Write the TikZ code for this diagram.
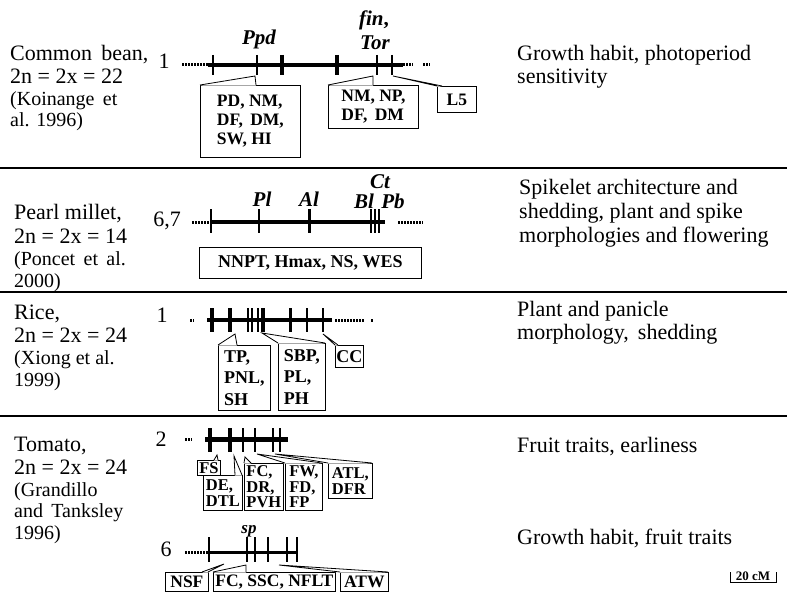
\documentclass[tikz,border=0pt]{standalone}
\usepackage{fontspec}
\setmainfont{Liberation Serif}
\usetikzlibrary{calc}
\newcommand\wedgeto[4]{%
  \fill[white] ([xshift=#3pt,yshift=-0.7pt]#1.north west) -- (#2) -- ([xshift=#4pt,yshift=-0.7pt]#1.north west) -- cycle;
  \draw[line width=0.8pt] ([xshift=#3pt]#1.north west) -- (#2) -- ([xshift=#4pt]#1.north west);
}
\begin{document}
\begin{tikzpicture}[x=1pt,y=-1pt,
  main/.style={font=\fontsize{22}{24}\selectfont, inner sep=0, anchor=base west},
  cite/.style={font=\fontsize{20}{22}\selectfont, inner sep=0, anchor=base west},
  chrnum/.style={font=\fontsize{22}{24}\selectfont, inner sep=0},
  gene/.style={font=\fontsize{21}{23}\selectfont\bfseries\itshape, inner sep=0, anchor=base},
  box/.style={draw, line width=0.8pt, fill=white, align=left, inner sep=0, anchor=north west},
  bbox/.style={box, font=\fontsize{17.5}{19}\selectfont\bfseries},
  rbox/.style={box, font=\fontsize{18}{21.5}\selectfont\bfseries},
  tbox/.style={box, font=\fontsize{16.5}{15.5}\selectfont\bfseries},
  sbox/.style={box, font=\fontsize{17.5}{18}\selectfont\bfseries},
  chrom/.style={line width=#1},
  dots/.style={line width=3pt, dash pattern=on 1.5pt off 1.5pt},
  tk/.style={line width=#1},
  sep/.style={line width=1.3pt},
]
\useasboundingbox (0,0) rectangle (787,607);

% separators
\draw[sep] (0,168) -- (787,168);
\draw[sep] (0,292) -- (787,292);
\draw[sep] (0,416) -- (787,416);

% ---------- left column ----------
\node[main] (bn1) at (10,61) {Common\, bean,};
\node[main] (bn2) at (10,84) {2n = 2x = 22};
\node[cite] (bn3) at (10,106) {(Koinange\, et};
\node[cite] (bn4) at (10,127) {al. 1996)};

\node[main] (pm1) at (14,219) {Pearl millet,};
\node[main] (pm2) at (14,243) {2n = 2x = 14};
\node[cite] (pm3) at (14,265) {(Poncet\, et\, al.};
\node[cite] (pm4) at (14,287) {2000)};

\node[main] (ri1) at (14,319) {Rice,};
\node[main] (ri2) at (14,342) {2n = 2x = 24};
\node[cite] (ri3) at (14,364) {(Xiong et al.};
\node[cite] (ri4) at (14,386) {1999)};

\node[main] (to1) at (14,451) {Tomato,};
\node[main] (to2) at (14,474) {2n = 2x = 24};
\node[cite] (to3) at (14,496) {(Grandillo};
\node[cite] (to4) at (14,517) {and\, Tanksley};
\node[cite] (to5) at (14,539) {1996)};

% ---------- right column ----------
\node[main] (rb1) at (517,61) {Growth habit, photoperiod};
\node[main] (rb2) at (517,84) {sensitivity};
\node[main] (rp1) at (519,194) {Spikelet architecture and};
\node[main] (rp2) at (519,218) {shedding, plant and spike};
\node[main] (rp3) at (519,242) {morphologies and flowering};
\node[main] (rr1) at (517,316) {Plant and panicle};
\node[main] (rr2) at (517,339) {morphology,\, shedding};
\node[main] (rt1) at (517,452) {Fruit traits, earliness};
\node[main] (rt2) at (517,544) {Growth habit, fruit traits};

% ---------- common bean ----------
\node[chrnum] (n1) at (164,61) {1};
\draw[dots] (182,65) -- (208,65);
\draw[chrom=4pt] (208,65) -- (403,65);
\draw[dots] (403,65) -- (413,65);
\draw[dots] (423,65) -- (430,65);
\foreach \x in {213,257,377,392} \draw[tk=1.5pt] (\x,55) -- (\x,75);
\foreach \x in {282,337} \draw[tk=3.5pt] (\x,55) -- (\x,75);
\node[gene] (ppd) at (259,45) {Ppd};
\node[gene] (fin) at (374,26) {fin\upshape,};
\node[gene] (tor) at (375,50) {Tor};

\node[bbox, minimum width=100pt, minimum height=72pt] (pd) at (200,85) {PD, NM,\\DF,\, DM,\\SW, HI};
\coordinate (tpd) at (255,76);
\wedgeto{pd}{tpd}{0}{56}
\node[bbox, minimum width=90pt, minimum height=43pt] (nm) at (328,85) {NM, NP,\\DF,\, DM};
\coordinate (tnm) at (373,76);
\wedgeto{nm}{tnm}{0}{45}
\node[bbox, minimum width=39pt, minimum height=26pt] (l5) at (437,86) {L5};
\coordinate (tl5) at (393,76);
\wedgeto{l5}{tl5}{0}{5}

% ---------- pearl millet ----------
\node[chrnum] (n67) at (167,221) {6,7};
\draw[dots] (192,222) -- (210,222);
\draw[chrom=3.5pt] (210,222) -- (385,222);
\draw[dots] (398,222) -- (423,222);
\foreach \x in {211,371,375,379} \draw[tk=1.5pt] (\x,209) -- (\x,233);
\draw[tk=2.5pt] (259,209) -- (259,233);
\draw[tk=3pt] (309,209) -- (309,233);
\node[gene] (pl) at (262,206) {Pl};
\node[gene] (al) at (309,206) {Al};
\node[gene] (ct) at (380,188) {Ct};
\node[gene] (bl) at (364,208) {Bl};
\node[gene] (pb) at (393,208) {Pb};
\node[box, font=\fontsize{18}{20}\selectfont\bfseries, minimum width=222pt, minimum height=31pt] (nnpt) at (199,247) {NNPT, Hmax, NS, WES};

% ---------- rice ----------
\node[chrnum] (nr1) at (162,315) {1};
\draw[dots] (190,320) -- (194,320);
\draw[chrom=4.5pt] (207,320) -- (332,320);
\draw[dots] (335,320) -- (365,320);
\draw[dots] (371,320) -- (373,320);
\foreach \x in {212,230} \draw[tk=3.5pt] (\x,308) -- (\x,332);
\foreach \x in {248,252} \draw[tk=2.5pt] (\x,308) -- (\x,332);
\draw[tk=4.5pt] (263,308) -- (263,332);
\draw[tk=1.5pt] (258,308) -- (258,332);
\draw[tk=3pt] (290,308) -- (290,332);
\foreach \x in {307,323} \draw[tk=1.5pt] (\x,308) -- (\x,332);

\node[rbox, minimum width=52pt, minimum height=65pt] (tp) at (218,345) {TP,\\PNL,\\SH};
\coordinate (ttp) at (235,334);
\wedgeto{tp}{ttp}{0}{19}
\node[rbox, minimum width=47pt, minimum height=67pt] (sbp) at (278,343) {SBP,\\PL,\\PH};
\coordinate (tsbp) at (262,333);
\wedgeto{sbp}{tsbp}{0}{47}
\node[rbox, minimum width=28pt, minimum height=22pt] (cc) at (335,345) {CC};
\coordinate (tcc) at (323,334);
\wedgeto{cc}{tcc}{0}{3}

% ---------- tomato 2 ----------
\node[chrnum] (n2) at (161,439) {2};
\draw[dots] (185,439) -- (192,439);
\draw[chrom=5pt] (205,439) -- (288,439);
\foreach \x in {210,230} \draw[tk=3.5pt] (\x,428) -- (\x,452);
\foreach \x in {243,255,273,280} \draw[tk=1.5pt] (\x,428) -- (\x,452);

\node[tbox, minimum width=39pt, minimum height=35pt] (de) at (203,475) {DE,\\DTL};
\coordinate (tde) at (234,456);
\wedgeto{de}{tde}{32}{39}
\node[tbox, minimum width=23pt, minimum height=15pt] (fs) at (197,460) {FS};
\coordinate (tfs) at (217,455);
\wedgeto{fs}{tfs}{17}{21}
\node[tbox, minimum width=39pt, minimum height=47pt] (fc) at (244,463) {FC,\\DR,\\PVH};
\coordinate (tfc) at (245,457);
\wedgeto{fc}{tfc}{0}{7}
\node[tbox, minimum width=37pt, minimum height=47pt] (fw) at (285,463) {FW,\\FD,\\FP};
\coordinate (tfw) at (257,454);
\wedgeto{fw}{tfw}{0}{37}
\node[tbox, minimum width=44pt, minimum height=35pt] (atl) at (328,463) {ATL,\\DFR};
\coordinate (tatl) at (275,454);
\wedgeto{atl}{tatl}{0}{44}

% ---------- tomato 6 ----------
\node[chrnum] (n6) at (166,549) {6};
\draw[dots] (185,552) -- (208,552);
\draw[chrom=3pt] (208,552) -- (298,552);
\draw[tk=2pt] (209,537) -- (209,562);
\foreach \x in {247,255,268,287,297} \draw[tk=1.5pt] (\x,537) -- (\x,562);
\node[gene, font=\fontsize{17}{19}\selectfont\bfseries\itshape] (sp) at (249,533) {sp};

\node[sbox, minimum width=43pt, minimum height=19pt] (nsf) at (165,572) {NSF};
\coordinate (tnsf) at (224,564);
\wedgeto{nsf}{tnsf}{37}{43}
\node[sbox, minimum width=122pt, minimum height=19pt] (fcs) at (213,572) {FC, SSC, NFLT};
\coordinate (tfcs) at (246,565);
\wedgeto{fcs}{tfcs}{0}{33}
\node[sbox, minimum width=48pt, minimum height=19pt] (atw) at (340,572) {ATW};
\coordinate (tatw) at (279,565);
\wedgeto{atw}{tatw}{0}{48}

% ---------- scale bar ----------
\draw[line width=1pt] (730,572) -- (730,582) -- (776,582) -- (776,572);
\node[font=\fontsize{13}{14}\selectfont\bfseries, inner sep=0] (scale) at (753,576) {20 cM};
\end{tikzpicture}
\end{document}
